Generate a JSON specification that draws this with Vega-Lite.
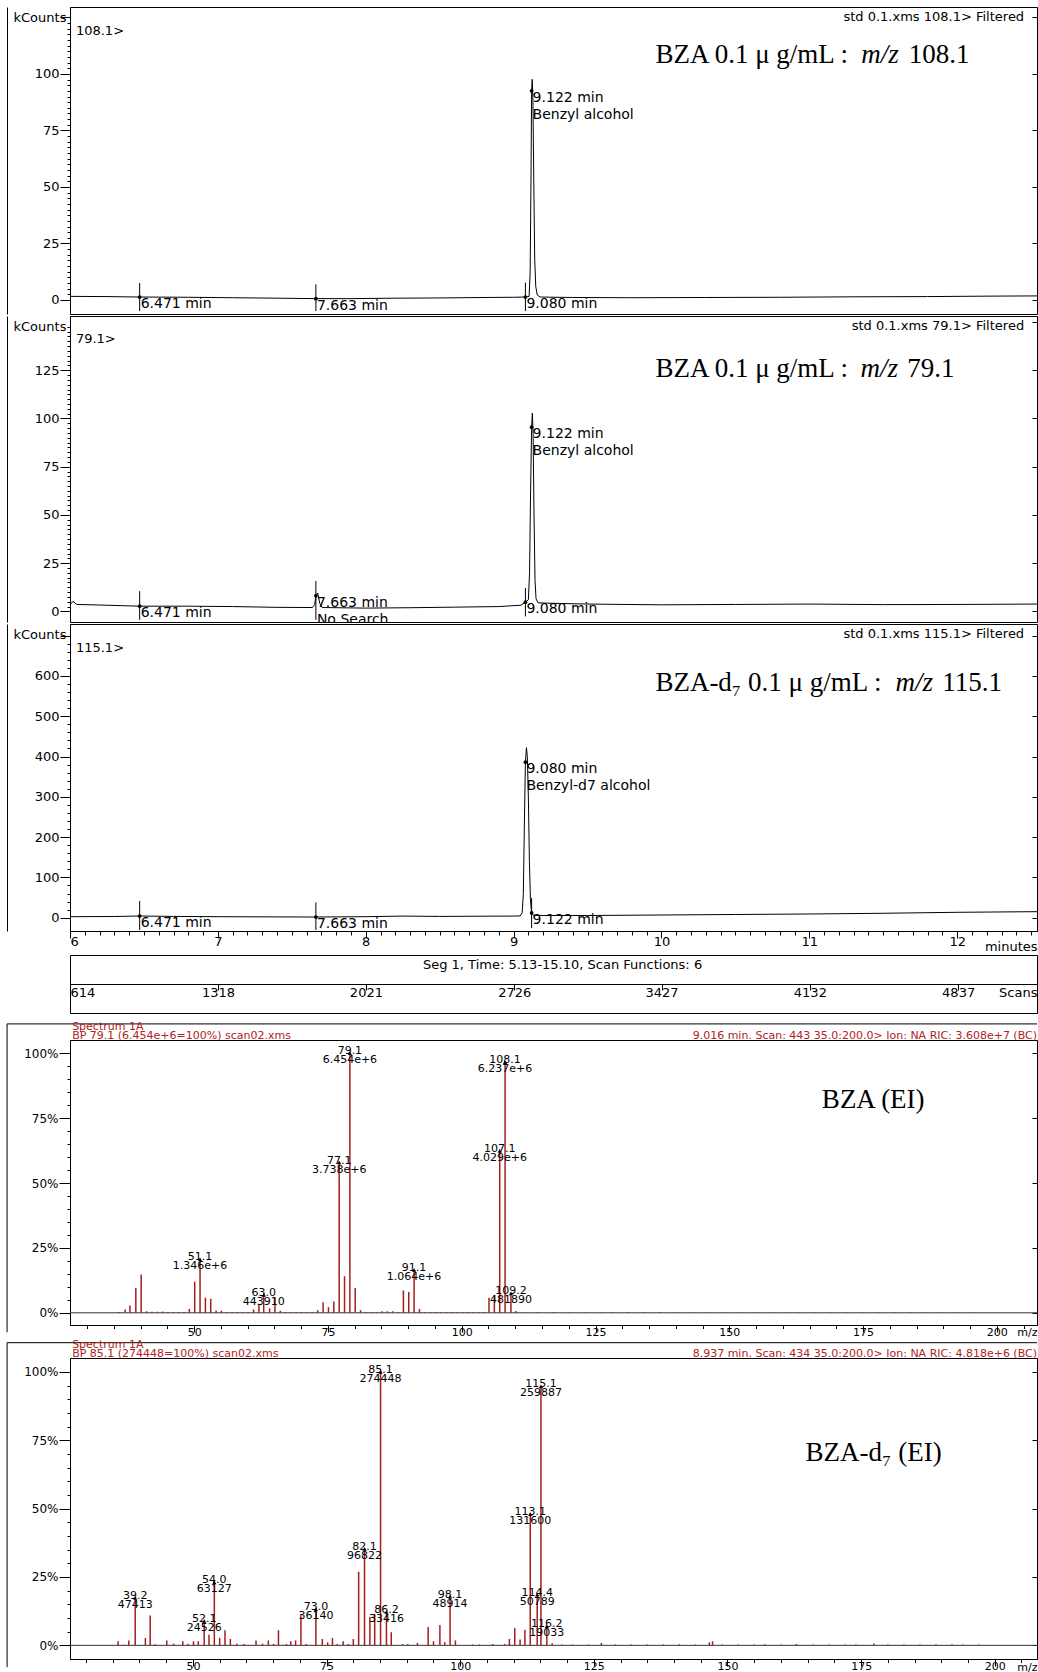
{
"$schema": "https://vega.github.io/schema/vega-lite/v6.json",
"background": "white",
"padding": {"left": 6, "top": 6, "right": 0, "bottom": 0},
"spacing": 0,
"config": {
 "font": "DejaVu Sans",
 "view": {"stroke": "black", "strokeWidth": 1},
 "axis": {"labelFont": "DejaVu Sans", "titleFont": "DejaVu Sans", "labelColor": "black", "titleColor": "black", "domainColor": "black", "tickColor": "black", "tickWidth": 1, "domainWidth": 1, "grid": false, "labelOverlap": false, "titleFontWeight": "normal"},
 "text": {"font": "DejaVu Sans", "color": "black"},
 "concat": {"spacing": 0}
},
"datasets": {
 "chrom": [
  {"p":1,"t":6.0,"v":1.6},{"p":1,"t":6.25,"v":1.5},{"p":1,"t":6.471,"v":1.3},{"p":1,"t":6.8,"v":1.2},{"p":1,"t":7.1,"v":1.0},{"p":1,"t":7.4,"v":0.8},{"p":1,"t":7.663,"v":0.6},{"p":1,"t":7.9,"v":0.6},{"p":1,"t":8.2,"v":0.8},{"p":1,"t":8.5,"v":0.9},{"p":1,"t":8.8,"v":1.1},{"p":1,"t":9.0,"v":1.2},{"p":1,"t":9.08,"v":1.3},{"p":1,"t":9.105,"v":1.6},{"p":1,"t":9.112,"v":12},{"p":1,"t":9.118,"v":55},{"p":1,"t":9.122,"v":92.5},{"p":1,"t":9.126,"v":97.6},{"p":1,"t":9.131,"v":88},{"p":1,"t":9.137,"v":50},{"p":1,"t":9.143,"v":18},{"p":1,"t":9.15,"v":6},{"p":1,"t":9.16,"v":2.2},{"p":1,"t":9.18,"v":1.3},{"p":1,"t":9.4,"v":1.1},{"p":1,"t":9.8,"v":1.0},{"p":1,"t":10.3,"v":1.1},{"p":1,"t":10.8,"v":1.2},{"p":1,"t":11.3,"v":1.4},{"p":1,"t":11.8,"v":1.5},{"p":1,"t":12.2,"v":1.7},{"p":1,"t":12.54,"v":1.8},
  {"p":2,"t":6.0,"v":3.4},{"p":2,"t":6.02,"v":5.2},{"p":2,"t":6.045,"v":3.6},{"p":2,"t":6.2,"v":3.3},{"p":2,"t":6.471,"v":2.7},{"p":2,"t":6.8,"v":2.7},{"p":2,"t":7.1,"v":2.5},{"p":2,"t":7.4,"v":2.1},{"p":2,"t":7.64,"v":2.0},{"p":2,"t":7.655,"v":3.5},{"p":2,"t":7.663,"v":8.1},{"p":2,"t":7.675,"v":9.5},{"p":2,"t":7.69,"v":4},{"p":2,"t":7.705,"v":2.0},{"p":2,"t":8.0,"v":1.7},{"p":2,"t":8.3,"v":1.9},{"p":2,"t":8.6,"v":2.2},{"p":2,"t":8.9,"v":2.5},{"p":2,"t":9.05,"v":3.2},{"p":2,"t":9.08,"v":4.8},{"p":2,"t":9.1,"v":6},{"p":2,"t":9.108,"v":20},{"p":2,"t":9.115,"v":62},{"p":2,"t":9.122,"v":95.5},{"p":2,"t":9.127,"v":102.8},{"p":2,"t":9.132,"v":92},{"p":2,"t":9.138,"v":52},{"p":2,"t":9.145,"v":16},{"p":2,"t":9.152,"v":6.5},{"p":2,"t":9.165,"v":4.5},{"p":2,"t":9.2,"v":4.3},{"p":2,"t":9.5,"v":3.8},{"p":2,"t":10.0,"v":3.4},{"p":2,"t":10.5,"v":3.6},{"p":2,"t":11.0,"v":3.8},{"p":2,"t":11.5,"v":3.5},{"p":2,"t":12.0,"v":3.6},{"p":2,"t":12.54,"v":3.8},
  {"p":3,"t":6.0,"v":2.5},{"p":3,"t":6.3,"v":3.0},{"p":3,"t":6.471,"v":4.2},{"p":3,"t":6.7,"v":3.2},{"p":3,"t":7.0,"v":2.5},{"p":3,"t":7.4,"v":2.0},{"p":3,"t":7.663,"v":1.7},{"p":3,"t":8.0,"v":2.5},{"p":3,"t":8.25,"v":4.0},{"p":3,"t":8.5,"v":3.2},{"p":3,"t":8.8,"v":3.8},{"p":3,"t":9.0,"v":4.0},{"p":3,"t":9.045,"v":4.5},{"p":3,"t":9.058,"v":12},{"p":3,"t":9.066,"v":60},{"p":3,"t":9.073,"v":230},{"p":3,"t":9.08,"v":386},{"p":3,"t":9.087,"v":422},{"p":3,"t":9.093,"v":400},{"p":3,"t":9.1,"v":300},{"p":3,"t":9.107,"v":140},{"p":3,"t":9.114,"v":45},{"p":3,"t":9.122,"v":11.7},{"p":3,"t":9.135,"v":6},{"p":3,"t":9.2,"v":5.5},{"p":3,"t":9.5,"v":5.5},{"p":3,"t":10.0,"v":6.7},{"p":3,"t":10.5,"v":8.0},{"p":3,"t":11.0,"v":9.2},{"p":3,"t":11.5,"v":11.0},{"p":3,"t":12.0,"v":13.4},{"p":3,"t":12.54,"v":15}
 ],
 "mk": [
  {"p":1,"t":6.471,"v":1.3,"lo":-4.9,"hi":7.5,"txt":"6.471 min"},
  {"p":1,"t":7.663,"v":0.6,"lo":-4.9,"hi":6.9,"txt":"7.663 min"},
  {"p":1,"t":9.08,"v":1.3,"lo":-4.9,"hi":7.7,"txt":"9.080 min"},
  {"p":1,"t":9.122,"v":92.5,"txt":"9.122 min\nBenzyl alcohol"},
  {"p":2,"t":6.471,"v":2.7,"lo":-4.4,"hi":10.5,"txt":"6.471 min"},
  {"p":2,"t":7.663,"v":8.1,"lo":-4.4,"hi":15.7,"txt":"7.663 min\nNo Search"},
  {"p":2,"t":9.08,"v":4.8,"lo":-2.6,"hi":12.1,"txt":"9.080 min"},
  {"p":2,"t":9.122,"v":95.5,"txt":"9.122 min\nBenzyl alcohol"},
  {"p":3,"t":6.471,"v":4.2,"lo":-30.5,"hi":41.5,"txt":"6.471 min"},
  {"p":3,"t":7.663,"v":1.7,"lo":-30.5,"hi":38.2,"txt":"7.663 min"},
  {"p":3,"t":9.08,"v":386,"txt":"9.080 min\nBenzyl-d7 alcohol"},
  {"p":3,"t":9.122,"v":11.7,"lo":-25.6,"hi":49,"txt":"9.122 min"}
 ],
 "lab": [
  {"p":1,"t":6.04,"v":119.2,"txt":"108.1>","k":"l"},
  {"p":1,"t":12.453,"v":125.2,"txt":"std 0.1.xms 108.1> Filtered","k":"r"},
  {"p":2,"t":6.04,"v":141.2,"txt":"79.1>","k":"l"},
  {"p":2,"t":12.453,"v":148.1,"txt":"std 0.1.xms 79.1> Filtered","k":"r"},
  {"p":3,"t":6.04,"v":668.8,"txt":"115.1>","k":"l"},
  {"p":3,"t":12.453,"v":704.3,"txt":"std 0.1.xms 115.1> Filtered","k":"r"}
 ],
 "ttl": [
  {"p":1,"t":9.959,"v":104.9,"txt":"BZA 0.1 μ g/mL :","it":0},{"p":1,"t":11.351,"v":104.9,"txt":"m/z","it":1},{"p":1,"t":11.673,"v":104.9,"txt":"108.1","it":0},
  {"p":2,"t":9.959,"v":121.5,"txt":"BZA 0.1 μ g/mL :","it":0},{"p":2,"t":11.347,"v":121.5,"txt":"m/z","it":1},{"p":2,"t":11.662,"v":121.5,"txt":"79.1","it":0},
  {"p":3,"t":9.959,"v":562.8,"txt":"BZA-d₇ 0.1 μ g/mL :","it":0},{"p":3,"t":11.583,"v":562.8,"txt":"m/z","it":1},{"p":3,"t":11.899,"v":562.8,"txt":"115.1","it":0}
 ],
 "seg": [{"scan":2956,"yy":0.833,"txt":"Seg 1, Time: 5.13-15.10, Scan Functions: 6"}],
 "ms": [
  {"s":1,"mz":36.0,"pct":0.3},{"s":1,"mz":37.1,"pct":1.3},{"s":1,"mz":38.0,"pct":2.8},{"s":1,"mz":39.1,"pct":9.6},{"s":1,"mz":40.1,"pct":14.8},{"s":1,"mz":41.1,"pct":0.6},{"s":1,"mz":42.1,"pct":0.4},{"s":1,"mz":43.1,"pct":0.4},{"s":1,"mz":44.1,"pct":0.5},{"s":1,"mz":45.1,"pct":0.3},{"s":1,"mz":46.1,"pct":0.3},{"s":1,"mz":47.1,"pct":0.3},{"s":1,"mz":48.1,"pct":0.3},{"s":1,"mz":49.1,"pct":1.5},{"s":1,"mz":50.1,"pct":12.0},{"s":1,"mz":51.1,"pct":20.6},{"s":1,"mz":52.1,"pct":5.8},{"s":1,"mz":53.1,"pct":5.4},{"s":1,"mz":54.1,"pct":0.9},{"s":1,"mz":55.1,"pct":0.8},{"s":1,"mz":56.1,"pct":0.3},{"s":1,"mz":57.1,"pct":0.3},{"s":1,"mz":58.1,"pct":0.3},{"s":1,"mz":59.1,"pct":0.3},{"s":1,"mz":60.1,"pct":0.3},{"s":1,"mz":61.1,"pct":1.3},{"s":1,"mz":62.1,"pct":3.2},{"s":1,"mz":63.0,"pct":6.9},{"s":1,"mz":64.1,"pct":1.7},{"s":1,"mz":65.1,"pct":6.0},{"s":1,"mz":66.1,"pct":0.8},{"s":1,"mz":67.1,"pct":0.3},{"s":1,"mz":68.1,"pct":0.3},{"s":1,"mz":69.1,"pct":0.3},{"s":1,"mz":70.1,"pct":0.3},{"s":1,"mz":71.1,"pct":0.3},{"s":1,"mz":72.1,"pct":0.3},{"s":1,"mz":73.1,"pct":1.0},{"s":1,"mz":74.1,"pct":4.1},{"s":1,"mz":75.1,"pct":2.2},{"s":1,"mz":76.1,"pct":4.4},{"s":1,"mz":77.1,"pct":57.9},{"s":1,"mz":78.1,"pct":14.1},{"s":1,"mz":79.1,"pct":100},{"s":1,"mz":80.1,"pct":9.6},{"s":1,"mz":81.1,"pct":1.0},{"s":1,"mz":82.1,"pct":0.3},{"s":1,"mz":83.1,"pct":0.3},{"s":1,"mz":84.1,"pct":0.3},{"s":1,"mz":85.1,"pct":0.6},{"s":1,"mz":86.1,"pct":0.6},{"s":1,"mz":87.1,"pct":0.6},{"s":1,"mz":88.1,"pct":0.3},{"s":1,"mz":89.1,"pct":8.6},{"s":1,"mz":90.1,"pct":8.0},{"s":1,"mz":91.1,"pct":16.5},{"s":1,"mz":92.1,"pct":1.5},{"s":1,"mz":93.1,"pct":0.3},{"s":1,"mz":94.1,"pct":0.3},{"s":1,"mz":95.1,"pct":0.3},{"s":1,"mz":96.1,"pct":0.3},{"s":1,"mz":97.1,"pct":0.3},{"s":1,"mz":98.1,"pct":0.3},{"s":1,"mz":99.1,"pct":0.3},{"s":1,"mz":100.1,"pct":0.3},{"s":1,"mz":101.1,"pct":0.3},{"s":1,"mz":102.1,"pct":0.3},{"s":1,"mz":103.1,"pct":0.3},{"s":1,"mz":104.1,"pct":0.3},{"s":1,"mz":105.1,"pct":5.8},{"s":1,"mz":106.1,"pct":6.7},{"s":1,"mz":107.1,"pct":62.4},{"s":1,"mz":108.1,"pct":96.6},{"s":1,"mz":109.2,"pct":7.5},{"s":1,"mz":110.1,"pct":0.7},{"s":1,"mz":112,"pct":0.25},{"s":1,"mz":114,"pct":0.25},{"s":1,"mz":117,"pct":0.25},{"s":1,"mz":120,"pct":0.25},{"s":1,"mz":123,"pct":0.25},{"s":1,"mz":126,"pct":0.25},{"s":1,"mz":128,"pct":0.25},{"s":1,"mz":131,"pct":0.25},{"s":1,"mz":134,"pct":0.25},{"s":1,"mz":137,"pct":0.25},{"s":1,"mz":140,"pct":0.25},{"s":1,"mz":143,"pct":0.25},{"s":1,"mz":146,"pct":0.25},{"s":1,"mz":149,"pct":0.25},{"s":1,"mz":152,"pct":0.25},{"s":1,"mz":155,"pct":0.25},{"s":1,"mz":158,"pct":0.25},{"s":1,"mz":161,"pct":0.25},{"s":1,"mz":163,"pct":0.25},{"s":1,"mz":166,"pct":0.25},{"s":1,"mz":169,"pct":0.25},{"s":1,"mz":172,"pct":0.25},{"s":1,"mz":175,"pct":0.25},{"s":1,"mz":178,"pct":0.25},{"s":1,"mz":181,"pct":0.25},{"s":1,"mz":184,"pct":0.25},{"s":1,"mz":186,"pct":0.25},{"s":1,"mz":189,"pct":0.25},{"s":1,"mz":192,"pct":0.25},{"s":1,"mz":195,"pct":0.25},
  {"s":2,"mz":36.0,"pct":1.5},{"s":2,"mz":37.0,"pct":0.2},{"s":2,"mz":38.0,"pct":1.8},{"s":2,"mz":39.2,"pct":17.3},{"s":2,"mz":41.1,"pct":2.7},{"s":2,"mz":42.0,"pct":10.9},{"s":2,"mz":42.9,"pct":0.4},{"s":2,"mz":45.1,"pct":1.8},{"s":2,"mz":46.4,"pct":0.6},{"s":2,"mz":48.1,"pct":1.5},{"s":2,"mz":49.1,"pct":0.6},{"s":2,"mz":50.1,"pct":1.5},{"s":2,"mz":51.0,"pct":1.5},{"s":2,"mz":52.1,"pct":8.9},{"s":2,"mz":53.0,"pct":3.9},{"s":2,"mz":54.0,"pct":23.0},{"s":2,"mz":55.0,"pct":2.7},{"s":2,"mz":56.0,"pct":5.5},{"s":2,"mz":57.0,"pct":2.3},{"s":2,"mz":58.2,"pct":0.6},{"s":2,"mz":59.6,"pct":0.5},{"s":2,"mz":61.8,"pct":1.8},{"s":2,"mz":63.0,"pct":0.6},{"s":2,"mz":64.1,"pct":1.8},{"s":2,"mz":65.1,"pct":0.5},{"s":2,"mz":66.0,"pct":5.5},{"s":2,"mz":67.5,"pct":0.5},{"s":2,"mz":68.3,"pct":1.5},{"s":2,"mz":69.2,"pct":1.8},{"s":2,"mz":70.2,"pct":11.5},{"s":2,"mz":71.2,"pct":0.5},{"s":2,"mz":73.0,"pct":13.2},{"s":2,"mz":74.2,"pct":2.3},{"s":2,"mz":75.2,"pct":1.1},{"s":2,"mz":76.1,"pct":2.7},{"s":2,"mz":77.0,"pct":0.5},{"s":2,"mz":78.1,"pct":1.5},{"s":2,"mz":79.1,"pct":0.5},{"s":2,"mz":80.0,"pct":2.3},{"s":2,"mz":81.0,"pct":26.9},{"s":2,"mz":82.1,"pct":35.3},{"s":2,"mz":83.1,"pct":10.4},{"s":2,"mz":84.0,"pct":11.5},{"s":2,"mz":85.1,"pct":100},{"s":2,"mz":86.2,"pct":12.2},{"s":2,"mz":87.1,"pct":4.8},{"s":2,"mz":89.2,"pct":0.4},{"s":2,"mz":90.2,"pct":0.5},{"s":2,"mz":92.0,"pct":0.9},{"s":2,"mz":94.0,"pct":6.7},{"s":2,"mz":95.0,"pct":1.5},{"s":2,"mz":96.2,"pct":7.4},{"s":2,"mz":97.1,"pct":1.2},{"s":2,"mz":98.1,"pct":17.8},{"s":2,"mz":99.1,"pct":1.8},{"s":2,"mz":102.3,"pct":0.3},{"s":2,"mz":103.6,"pct":0.3},{"s":2,"mz":106.1,"pct":0.5},{"s":2,"mz":108.3,"pct":0.5},{"s":2,"mz":109.2,"pct":2.3},{"s":2,"mz":110.2,"pct":6.3},{"s":2,"mz":111.2,"pct":2.1},{"s":2,"mz":112.1,"pct":5.7},{"s":2,"mz":113.1,"pct":48.0},{"s":2,"mz":114.4,"pct":18.5},{"s":2,"mz":115.1,"pct":94.7},{"s":2,"mz":116.2,"pct":6.9},{"s":2,"mz":117.2,"pct":0.8},{"s":2,"mz":119,"pct":0.3},{"s":2,"mz":121,"pct":0.3},{"s":2,"mz":124,"pct":0.3},{"s":2,"mz":126.4,"pct":0.9},{"s":2,"mz":129,"pct":0.3},{"s":2,"mz":132,"pct":0.3},{"s":2,"mz":135,"pct":0.3},{"s":2,"mz":138,"pct":0.3},{"s":2,"mz":141,"pct":0.4},{"s":2,"mz":144,"pct":0.3},{"s":2,"mz":146.6,"pct":1.1},{"s":2,"mz":147.2,"pct":1.5},{"s":2,"mz":149,"pct":0.3},{"s":2,"mz":152,"pct":0.3},{"s":2,"mz":155,"pct":0.3},{"s":2,"mz":157,"pct":0.4},{"s":2,"mz":160,"pct":0.3},{"s":2,"mz":162.9,"pct":0.5},{"s":2,"mz":166,"pct":0.3},{"s":2,"mz":169,"pct":0.3},{"s":2,"mz":172,"pct":0.3},{"s":2,"mz":174,"pct":0.3},{"s":2,"mz":177.4,"pct":0.7},{"s":2,"mz":180,"pct":0.3},{"s":2,"mz":183,"pct":0.3},{"s":2,"mz":186,"pct":0.3},{"s":2,"mz":189,"pct":0.4},{"s":2,"mz":192,"pct":0.4},{"s":2,"mz":194,"pct":0.3},{"s":2,"mz":197,"pct":0.3}
 ],
 "msl": [
  {"s":1,"mz":51.1,"pct":20.6,"txt":"51.1\n1.346e+6"},{"s":1,"mz":63.0,"pct":6.9,"txt":"63.0\n443910"},{"s":1,"mz":77.1,"pct":57.9,"txt":"77.1\n3.738e+6"},{"s":1,"mz":79.1,"pct":100,"txt":"79.1\n6.454e+6"},{"s":1,"mz":91.1,"pct":16.5,"txt":"91.1\n1.064e+6"},{"s":1,"mz":107.1,"pct":62.4,"txt":"107.1\n4.029e+6"},{"s":1,"mz":108.1,"pct":96.6,"txt":"108.1\n6.237e+6"},{"s":1,"mz":109.2,"pct":7.5,"txt":"109.2\n481890"},
  {"s":2,"mz":39.2,"pct":17.3,"txt":"39.2\n47413"},{"s":2,"mz":52.1,"pct":8.9,"txt":"52.1\n24526"},{"s":2,"mz":54.0,"pct":23.0,"txt":"54.0\n63127"},{"s":2,"mz":73.0,"pct":13.2,"txt":"73.0\n36140"},{"s":2,"mz":82.1,"pct":35.3,"txt":"82.1\n96822"},{"s":2,"mz":85.1,"pct":100,"txt":"85.1\n274448"},{"s":2,"mz":86.2,"pct":12.2,"txt":"86.2\n33416"},{"s":2,"mz":98.1,"pct":17.8,"txt":"98.1\n48914"},{"s":2,"mz":113.1,"pct":48.0,"txt":"113.1\n131600"},{"s":2,"mz":114.4,"pct":18.5,"txt":"114.4\n50789"},{"s":2,"mz":115.1,"pct":94.7,"txt":"115.1\n259887"},{"s":2,"mz":116.2,"pct":6.9,"txt":"116.2\n19033"}
 ],
 "msh": [
  {"s":1,"mz":27.2,"pct":110.0,"txt":"Spectrum 1A","k":"l"},
  {"s":1,"mz":27.2,"pct":106.6,"txt":"BP 79.1 (6.454e+6=100%) scan02.xms","k":"l"},
  {"s":1,"mz":207.5,"pct":106.6,"txt":"9.016 min. Scan: 443 35.0:200.0> Ion: NA RIC: 3.608e+7 (BC)","k":"r"},
  {"s":2,"mz":27.4,"pct":109.8,"txt":"Spectrum 1A","k":"l"},
  {"s":2,"mz":27.4,"pct":106.6,"txt":"BP 85.1 (274448=100%) scan02.xms","k":"l"},
  {"s":2,"mz":207.9,"pct":106.6,"txt":"8.937 min. Scan: 434 35.0:200.0> Ion: NA RIC: 4.818e+6 (BC)","k":"r"}
 ],
 "mst": [
  {"s":1,"mz":167.3,"pct":79.0,"txt":"BZA (EI)"},
  {"s":2,"mz":164.6,"pct":67.4,"txt":"BZA-d₇ (EI)"}
 ],
 "base": [
  {"s":1,"mz":26.8,"mz2":207.5,"pct":0},
  {"s":2,"mz":27.0,"mz2":207.9,"pct":0}
 ],
 "frame": [
  {"s":1,"mz":15.04,"mz2":207.5,"pct":111.3,"pct2":-7.5},
  {"s":2,"mz":15.23,"mz2":207.9,"pct":110.7,"pct2":-8.0}
 ]
},
"vconcat": [
 {
  "width": 967, "height": 307,
  "resolve": {"axis": {"y": "independent"}},
  "encoding": {"x": {"field": "t", "type": "quantitative", "scale": {"domain": [6, 12.54], "nice": false, "zero": false}, "axis": null}},
  "layer": [
   {"data": {"name": "chrom"}, "transform": [{"filter": "datum.p === 1"}],
    "mark": {"type": "line", "color": "black", "strokeWidth": 1},
    "encoding": {"y": {"field": "v", "type": "quantitative", "scale": {"domain": [-6.2, 129.6], "nice": false, "zero": false},
      "axis": {"orient": "left", "values": [0,2.5,5,7.5,10,12.5,15,17.5,20,22.5,25,27.5,30,32.5,35,37.5,40,42.5,45,47.5,50,52.5,55,57.5,60,62.5,65,67.5,70,72.5,75,77.5,80,82.5,85,87.5,90,92.5,95,97.5,100,102.5,105,107.5,110,112.5,115,117.5,120,122.5,125],
       "labelExpr": "datum.value >= 0 && datum.value <= 100 && datum.value % 25 === 0 ? '' + datum.value : ''",
       "tickSize": {"condition": {"test": "datum.value % 25 === 0", "value": 10}, "value": 3},
       "labelPadding": 1, "labelFontSize": 13,
       "title": "kCounts", "titleAngle": 0, "titleAlign": "left", "titleBaseline": "middle", "titleX": -57, "titleY": 10, "titleFontSize": 13}}}},
   {"data": {"name": "chrom"}, "transform": [{"filter": "datum.p === 1"}],
    "mark": {"type": "line", "strokeOpacity": 0},
    "encoding": {"y": {"field": "v", "type": "quantitative", "scale": {"domain": [-6.2, 129.6], "nice": false, "zero": false},
      "axis": {"orient": "right", "values": [0,25,50,75,100,125], "labels": false, "domain": false, "tickSize": -5, "title": null}}}},
   {"data": {"name": "chrom"}, "transform": [{"filter": "datum.p === 1"}],
    "mark": {"type": "line", "strokeOpacity": 0},
    "encoding": {"y": {"field": "v", "type": "quantitative", "scale": {"domain": [-6.2, 129.6], "nice": false, "zero": false},
      "axis": {"orient": "left", "offset": 63, "labels": false, "ticks": false, "domain": true, "title": null}}}},
   {"data": {"name": "mk"}, "transform": [{"filter": "datum.p === 1 && isValid(datum.lo)"}],
    "mark": {"type": "rule", "color": "black", "strokeWidth": 1},
    "encoding": {"y": {"field": "hi", "type": "quantitative", "scale": {"domain": [-6.2, 129.6], "nice": false, "zero": false}, "axis": null}, "y2": {"field": "lo"}}},
   {"data": {"name": "mk"}, "transform": [{"filter": "datum.p === 1"}],
    "mark": {"type": "point", "filled": true, "color": "black", "size": 14, "opacity": 1, "strokeWidth": 0},
    "encoding": {"y": {"field": "v", "type": "quantitative", "scale": {"domain": [-6.2, 129.6], "nice": false, "zero": false}, "axis": null}}},
   {"data": {"name": "mk"}, "transform": [{"filter": "datum.p === 1"}],
    "mark": {"type": "text", "align": "left", "baseline": "top", "dx": 1, "dy": 0, "fontSize": 14, "lineHeight": 17, "lineBreak": "\n", "clip": true},
    "encoding": {"y": {"field": "v", "type": "quantitative", "scale": {"domain": [-6.2, 129.6], "nice": false, "zero": false}, "axis": null}, "text": {"field": "txt"}}},
   {"data": {"name": "lab"}, "transform": [{"filter": "datum.p === 1 && datum.k === 'l'"}],
    "mark": {"type": "text", "align": "left", "baseline": "middle", "fontSize": 13},
    "encoding": {"y": {"field": "v", "type": "quantitative", "scale": {"domain": [-6.2, 129.6], "nice": false, "zero": false}, "axis": null}, "text": {"field": "txt"}}},
   {"data": {"name": "lab"}, "transform": [{"filter": "datum.p === 1 && datum.k === 'r'"}],
    "mark": {"type": "text", "align": "right", "baseline": "middle", "fontSize": 13},
    "encoding": {"y": {"field": "v", "type": "quantitative", "scale": {"domain": [-6.2, 129.6], "nice": false, "zero": false}, "axis": null}, "text": {"field": "txt"}}},
   {"data": {"name": "ttl"}, "transform": [{"filter": "datum.p === 1 && datum.it === 0"}],
    "mark": {"type": "text", "align": "left", "baseline": "alphabetic", "font": "Liberation Serif", "fontSize": 27},
    "encoding": {"y": {"field": "v", "type": "quantitative", "scale": {"domain": [-6.2, 129.6], "nice": false, "zero": false}, "axis": null}, "text": {"field": "txt"}}},
   {"data": {"name": "ttl"}, "transform": [{"filter": "datum.p === 1 && datum.it === 1"}],
    "mark": {"type": "text", "align": "left", "baseline": "alphabetic", "font": "Liberation Serif", "fontStyle": "italic", "fontSize": 27},
    "encoding": {"y": {"field": "v", "type": "quantitative", "scale": {"domain": [-6.2, 129.6], "nice": false, "zero": false}, "axis": null}, "text": {"field": "txt"}}}
  ]
 },
 {
  "width": 967, "height": 306,
  "resolve": {"axis": {"y": "independent"}},
  "encoding": {"x": {"field": "t", "type": "quantitative", "scale": {"domain": [6, 12.54], "nice": false, "zero": false}, "axis": null}},
  "layer": [
   {"data": {"name": "chrom"}, "transform": [{"filter": "datum.p === 2"}],
    "mark": {"type": "line", "color": "black", "strokeWidth": 1},
    "encoding": {"y": {"field": "v", "type": "quantitative", "scale": {"domain": [-5.5, 153.1], "nice": false, "zero": false},
      "axis": {"orient": "left", "values": [0,2.5,5,7.5,10,12.5,15,17.5,20,22.5,25,27.5,30,32.5,35,37.5,40,42.5,45,47.5,50,52.5,55,57.5,60,62.5,65,67.5,70,72.5,75,77.5,80,82.5,85,87.5,90,92.5,95,97.5,100,102.5,105,107.5,110,112.5,115,117.5,120,122.5,125,127.5,130,132.5,135,137.5,140,142.5,145,147.5],
       "labelExpr": "datum.value >= 0 && datum.value <= 125 && datum.value % 25 === 0 ? '' + datum.value : ''",
       "tickSize": {"condition": {"test": "datum.value % 25 === 0", "value": 10}, "value": 3},
       "labelPadding": 1, "labelFontSize": 13,
       "title": "kCounts", "titleAngle": 0, "titleAlign": "left", "titleBaseline": "middle", "titleX": -57, "titleY": 10, "titleFontSize": 13}}}},
   {"data": {"name": "chrom"}, "transform": [{"filter": "datum.p === 2"}],
    "mark": {"type": "line", "strokeOpacity": 0},
    "encoding": {"y": {"field": "v", "type": "quantitative", "scale": {"domain": [-5.5, 153.1], "nice": false, "zero": false},
      "axis": {"orient": "right", "values": [0,25,50,75,100,125,150], "labels": false, "domain": false, "tickSize": -5, "title": null}}}},
   {"data": {"name": "chrom"}, "transform": [{"filter": "datum.p === 2"}],
    "mark": {"type": "line", "strokeOpacity": 0},
    "encoding": {"y": {"field": "v", "type": "quantitative", "scale": {"domain": [-5.5, 153.1], "nice": false, "zero": false},
      "axis": {"orient": "left", "offset": 63, "labels": false, "ticks": false, "domain": true, "title": null}}}},
   {"data": {"name": "mk"}, "transform": [{"filter": "datum.p === 2 && isValid(datum.lo)"}],
    "mark": {"type": "rule", "color": "black", "strokeWidth": 1},
    "encoding": {"y": {"field": "hi", "type": "quantitative", "scale": {"domain": [-5.5, 153.1], "nice": false, "zero": false}, "axis": null}, "y2": {"field": "lo"}}},
   {"data": {"name": "mk"}, "transform": [{"filter": "datum.p === 2"}],
    "mark": {"type": "point", "filled": true, "color": "black", "size": 14, "opacity": 1, "strokeWidth": 0},
    "encoding": {"y": {"field": "v", "type": "quantitative", "scale": {"domain": [-5.5, 153.1], "nice": false, "zero": false}, "axis": null}}},
   {"data": {"name": "mk"}, "transform": [{"filter": "datum.p === 2"}],
    "mark": {"type": "text", "align": "left", "baseline": "top", "dx": 1, "dy": 0, "fontSize": 14, "lineHeight": 17, "lineBreak": "\n", "clip": true},
    "encoding": {"y": {"field": "v", "type": "quantitative", "scale": {"domain": [-5.5, 153.1], "nice": false, "zero": false}, "axis": null}, "text": {"field": "txt"}}},
   {"data": {"name": "lab"}, "transform": [{"filter": "datum.p === 2 && datum.k === 'l'"}],
    "mark": {"type": "text", "align": "left", "baseline": "middle", "fontSize": 13},
    "encoding": {"y": {"field": "v", "type": "quantitative", "scale": {"domain": [-5.5, 153.1], "nice": false, "zero": false}, "axis": null}, "text": {"field": "txt"}}},
   {"data": {"name": "lab"}, "transform": [{"filter": "datum.p === 2 && datum.k === 'r'"}],
    "mark": {"type": "text", "align": "right", "baseline": "middle", "fontSize": 13},
    "encoding": {"y": {"field": "v", "type": "quantitative", "scale": {"domain": [-5.5, 153.1], "nice": false, "zero": false}, "axis": null}, "text": {"field": "txt"}}},
   {"data": {"name": "ttl"}, "transform": [{"filter": "datum.p === 2 && datum.it === 0"}],
    "mark": {"type": "text", "align": "left", "baseline": "alphabetic", "font": "Liberation Serif", "fontSize": 27},
    "encoding": {"y": {"field": "v", "type": "quantitative", "scale": {"domain": [-5.5, 153.1], "nice": false, "zero": false}, "axis": null}, "text": {"field": "txt"}}},
   {"data": {"name": "ttl"}, "transform": [{"filter": "datum.p === 2 && datum.it === 1"}],
    "mark": {"type": "text", "align": "left", "baseline": "alphabetic", "font": "Liberation Serif", "fontStyle": "italic", "fontSize": 27},
    "encoding": {"y": {"field": "v", "type": "quantitative", "scale": {"domain": [-5.5, 153.1], "nice": false, "zero": false}, "axis": null}, "text": {"field": "txt"}}}
  ]
 },
 {
  "width": 967, "height": 307,
  "resolve": {"axis": {"y": "independent"}},
  "encoding": {"x": {"field": "t", "type": "quantitative", "scale": {"domain": [6, 12.54], "nice": false, "zero": false},
    "axis": {"orient": "bottom", "values": [6,6.1,6.2,6.3,6.4,6.5,6.6,6.7,6.8,6.9,7,7.1,7.2,7.3,7.4,7.5,7.6,7.7,7.8,7.9,8,8.1,8.2,8.3,8.4,8.5,8.6,8.7,8.8,8.9,9,9.1,9.2,9.3,9.4,9.5,9.6,9.7,9.8,9.9,10,10.1,10.2,10.3,10.4,10.5,10.6,10.7,10.8,10.9,11,11.1,11.2,11.3,11.4,11.5,11.6,11.7,11.8,11.9,12,12.1,12.2,12.3,12.4,12.5],
     "labelExpr": "datum.value % 1 === 0 ? '' + datum.value : ''",
     "tickSize": {"condition": {"test": "datum.value % 1 === 0", "value": 7}, "value": 4},
     "labelPadding": -3, "labelFontSize": 13, "labelFlush": 3,
     "title": "minutes", "titleX": 967, "titleY": 15, "titleAlign": "right", "titleBaseline": "middle", "titleFontSize": 13, "minExtent": 22}}},
  "layer": [
   {"data": {"name": "chrom"}, "transform": [{"filter": "datum.p === 3"}],
    "mark": {"type": "line", "color": "black", "strokeWidth": 1},
    "encoding": {"y": {"field": "v", "type": "quantitative", "scale": {"domain": [-33, 729], "nice": false, "zero": false},
      "axis": {"orient": "left", "values": [0,20,40,60,80,100,120,140,160,180,200,220,240,260,280,300,320,340,360,380,400,420,440,460,480,500,520,540,560,580,600,620,640,660,680,700],
       "labelExpr": "datum.value >= 0 && datum.value <= 600 && datum.value % 100 === 0 ? '' + datum.value : ''",
       "tickSize": {"condition": {"test": "datum.value % 100 === 0", "value": 10}, "value": 3},
       "labelPadding": 1, "labelFontSize": 13,
       "title": "kCounts", "titleAngle": 0, "titleAlign": "left", "titleBaseline": "middle", "titleX": -57, "titleY": 10, "titleFontSize": 13}}}},
   {"data": {"name": "chrom"}, "transform": [{"filter": "datum.p === 3"}],
    "mark": {"type": "line", "strokeOpacity": 0},
    "encoding": {"y": {"field": "v", "type": "quantitative", "scale": {"domain": [-33, 729], "nice": false, "zero": false},
      "axis": {"orient": "right", "values": [0,100,200,300,400,500,600,700], "labels": false, "domain": false, "tickSize": -5, "title": null}}}},
   {"data": {"name": "chrom"}, "transform": [{"filter": "datum.p === 3"}],
    "mark": {"type": "line", "strokeOpacity": 0},
    "encoding": {"y": {"field": "v", "type": "quantitative", "scale": {"domain": [-33, 729], "nice": false, "zero": false},
      "axis": {"orient": "left", "offset": 63, "labels": false, "ticks": false, "domain": true, "title": null}}}},
   {"data": {"name": "mk"}, "transform": [{"filter": "datum.p === 3 && isValid(datum.lo)"}],
    "mark": {"type": "rule", "color": "black", "strokeWidth": 1},
    "encoding": {"y": {"field": "hi", "type": "quantitative", "scale": {"domain": [-33, 729], "nice": false, "zero": false}, "axis": null}, "y2": {"field": "lo"}}},
   {"data": {"name": "mk"}, "transform": [{"filter": "datum.p === 3"}],
    "mark": {"type": "point", "filled": true, "color": "black", "size": 14, "opacity": 1, "strokeWidth": 0},
    "encoding": {"y": {"field": "v", "type": "quantitative", "scale": {"domain": [-33, 729], "nice": false, "zero": false}, "axis": null}}},
   {"data": {"name": "mk"}, "transform": [{"filter": "datum.p === 3"}],
    "mark": {"type": "text", "align": "left", "baseline": "top", "dx": 1, "dy": 0, "fontSize": 14, "lineHeight": 17, "lineBreak": "\n", "clip": true},
    "encoding": {"y": {"field": "v", "type": "quantitative", "scale": {"domain": [-33, 729], "nice": false, "zero": false}, "axis": null}, "text": {"field": "txt"}}},
   {"data": {"name": "lab"}, "transform": [{"filter": "datum.p === 3 && datum.k === 'l'"}],
    "mark": {"type": "text", "align": "left", "baseline": "middle", "fontSize": 13},
    "encoding": {"y": {"field": "v", "type": "quantitative", "scale": {"domain": [-33, 729], "nice": false, "zero": false}, "axis": null}, "text": {"field": "txt"}}},
   {"data": {"name": "lab"}, "transform": [{"filter": "datum.p === 3 && datum.k === 'r'"}],
    "mark": {"type": "text", "align": "right", "baseline": "middle", "fontSize": 13},
    "encoding": {"y": {"field": "v", "type": "quantitative", "scale": {"domain": [-33, 729], "nice": false, "zero": false}, "axis": null}, "text": {"field": "txt"}}},
   {"data": {"name": "ttl"}, "transform": [{"filter": "datum.p === 3 && datum.it === 0"}],
    "mark": {"type": "text", "align": "left", "baseline": "alphabetic", "font": "Liberation Serif", "fontSize": 27},
    "encoding": {"y": {"field": "v", "type": "quantitative", "scale": {"domain": [-33, 729], "nice": false, "zero": false}, "axis": null}, "text": {"field": "txt"}}},
   {"data": {"name": "ttl"}, "transform": [{"filter": "datum.p === 3 && datum.it === 1"}],
    "mark": {"type": "text", "align": "left", "baseline": "alphabetic", "font": "Liberation Serif", "fontStyle": "italic", "fontSize": 27},
    "encoding": {"y": {"field": "v", "type": "quantitative", "scale": {"domain": [-33, 729], "nice": false, "zero": false}, "axis": null}, "text": {"field": "txt"}}}
  ]
 },
 {
  "width": 967, "height": 58,
  "data": {"name": "seg"},
  "mark": {"type": "text", "align": "center", "baseline": "middle", "fontSize": 13},
  "encoding": {
   "x": {"field": "scan", "type": "quantitative", "scale": {"domain": [614, 5212], "nice": false, "zero": false},
    "axis": {"orient": "bottom", "offset": -29, "values": [614,1318,2021,2726,3427,4132,4837], "labelExpr": "'' + datum.value",
     "tickSize": 6, "labelPadding": -4, "labelFontSize": 13, "labelFlush": 3,
     "title": "Scans", "titleX": 967, "titleY": 8, "titleAlign": "right", "titleBaseline": "middle", "titleFontSize": 13, "minExtent": 35}},
   "y": {"field": "yy", "type": "quantitative", "scale": {"domain": [0, 1], "nice": false, "zero": false}, "axis": null},
   "text": {"field": "txt"}
  }
 },
 {
  "width": 967, "height": 285,
  "resolve": {"axis": {"y": "independent"}},
  "encoding": {"x": {"field": "mz", "type": "quantitative", "scale": {"domain": [26.8, 207.5], "nice": false, "zero": false},
    "axis": {"orient": "bottom", "values": [30,35,40,45,50,55,60,65,70,75,80,85,90,95,100,105,110,115,120,125,130,135,140,145,150,155,160,165,170,175,180,185,190,195,200,205],
     "labelExpr": "datum.value % 25 === 0 ? '' + datum.value : ''",
     "tickSize": {"condition": {"test": "datum.value % 25 === 0", "value": 7}, "value": 3.5},
     "labelPadding": -6, "labelFontSize": 11,
     "title": "m/z", "titleX": 967, "titleY": 7, "titleAlign": "right", "titleBaseline": "middle", "titleFontSize": 11}}},
  "layer": [
   {"data": {"name": "base"}, "transform": [{"filter": "datum.s === 1"}],
    "mark": {"type": "rule", "color": "#333333", "strokeWidth": 1},
    "encoding": {"x2": {"field": "mz2"}, "y": {"field": "pct", "type": "quantitative", "scale": {"domain": [-4.7, 105.1], "nice": false, "zero": false},
      "axis": {"orient": "left", "values": [0,5,10,15,20,25,30,35,40,45,50,55,60,65,70,75,80,85,90,95,100],
       "labelExpr": "datum.value % 25 === 0 ? datum.value + '%' : ''",
       "tickSize": {"condition": {"test": "datum.value % 25 === 0", "value": 11}, "value": 3},
       "labelPadding": 1, "labelFontSize": 12, "title": null}}}},
   {"data": {"name": "frame"}, "transform": [{"filter": "datum.s === 1"}],
    "mark": {"type": "rule", "color": "black", "strokeWidth": 1},
    "encoding": {"x2": {"field": "mz2"}, "y": {"field": "pct", "type": "quantitative", "scale": {"domain": [-4.7, 105.1], "nice": false, "zero": false}, "axis": null}}},
   {"data": {"name": "frame"}, "transform": [{"filter": "datum.s === 1"}],
    "mark": {"type": "rule", "color": "black", "strokeWidth": 1},
    "encoding": {"y": {"field": "pct", "type": "quantitative", "scale": {"domain": [-4.7, 105.1], "nice": false, "zero": false}, "axis": null}, "y2": {"field": "pct2"}}},
   {"data": {"name": "ms"}, "transform": [{"filter": "datum.s === 1"}],
    "mark": {"type": "rule", "color": "#a31f1f", "strokeWidth": 1.5},
    "encoding": {"y": {"field": "pct", "type": "quantitative", "scale": {"domain": [-4.7, 105.1], "nice": false, "zero": false},
      "axis": {"orient": "right", "values": [0,25,50,75,100], "labels": false, "domain": false, "tickSize": -5, "title": null}}, "y2": {"datum": 0}}},
   {"data": {"name": "msl"}, "transform": [{"filter": "datum.s === 1"}],
    "mark": {"type": "point", "shape": "triangle-up", "filled": true, "color": "black", "size": 18, "opacity": 1, "strokeWidth": 0},
    "encoding": {"y": {"field": "pct", "type": "quantitative", "scale": {"domain": [-4.7, 105.1], "nice": false, "zero": false}, "axis": null}}},
   {"data": {"name": "msl"}, "transform": [{"filter": "datum.s === 1"}],
    "mark": {"type": "text", "align": "center", "baseline": "bottom", "dy": 3, "fontSize": 11, "lineHeight": 9, "lineBreak": "\n"},
    "encoding": {"y": {"field": "pct", "type": "quantitative", "scale": {"domain": [-4.7, 105.1], "nice": false, "zero": false}, "axis": null}, "text": {"field": "txt"}}},
   {"data": {"name": "msh"}, "transform": [{"filter": "datum.s === 1 && datum.k === 'l'"}],
    "mark": {"type": "text", "align": "left", "baseline": "middle", "fontSize": 11, "color": "#b22222"},
    "encoding": {"y": {"field": "pct", "type": "quantitative", "scale": {"domain": [-4.7, 105.1], "nice": false, "zero": false}, "axis": null}, "text": {"field": "txt"}}},
   {"data": {"name": "msh"}, "transform": [{"filter": "datum.s === 1 && datum.k === 'r'"}],
    "mark": {"type": "text", "align": "right", "baseline": "middle", "fontSize": 11, "color": "#b22222"},
    "encoding": {"y": {"field": "pct", "type": "quantitative", "scale": {"domain": [-4.7, 105.1], "nice": false, "zero": false}, "axis": null}, "text": {"field": "txt"}}},
   {"data": {"name": "mst"}, "transform": [{"filter": "datum.s === 1"}],
    "mark": {"type": "text", "align": "left", "baseline": "alphabetic", "font": "Liberation Serif", "fontSize": 27},
    "encoding": {"y": {"field": "pct", "type": "quantitative", "scale": {"domain": [-4.7, 105.1], "nice": false, "zero": false}, "axis": null}, "text": {"field": "txt"}}}
  ]
 },
 {
  "width": 967, "height": 301,
  "resolve": {"axis": {"y": "independent"}},
  "encoding": {"x": {"field": "mz", "type": "quantitative", "scale": {"domain": [27.0, 207.9], "nice": false, "zero": false},
    "axis": {"orient": "bottom", "values": [30,35,40,45,50,55,60,65,70,75,80,85,90,95,100,105,110,115,120,125,130,135,140,145,150,155,160,165,170,175,180,185,190,195,200,205],
     "labelExpr": "datum.value % 25 === 0 ? '' + datum.value : ''",
     "tickSize": {"condition": {"test": "datum.value % 25 === 0", "value": 7}, "value": 3.5},
     "labelPadding": -6, "labelFontSize": 11,
     "title": "m/z", "titleX": 967, "titleY": 8, "titleAlign": "right", "titleBaseline": "middle", "titleFontSize": 11}}},
  "layer": [
   {"data": {"name": "base"}, "transform": [{"filter": "datum.s === 2"}],
    "mark": {"type": "rule", "color": "#333333", "strokeWidth": 1},
    "encoding": {"x2": {"field": "mz2"}, "y": {"field": "pct", "type": "quantitative", "scale": {"domain": [-5.0, 105.1], "nice": false, "zero": false},
      "axis": {"orient": "left", "values": [0,5,10,15,20,25,30,35,40,45,50,55,60,65,70,75,80,85,90,95,100],
       "labelExpr": "datum.value % 25 === 0 ? datum.value + '%' : ''",
       "tickSize": {"condition": {"test": "datum.value % 25 === 0", "value": 11}, "value": 3},
       "labelPadding": 1, "labelFontSize": 12, "title": null}}}},
   {"data": {"name": "frame"}, "transform": [{"filter": "datum.s === 2"}],
    "mark": {"type": "rule", "color": "black", "strokeWidth": 1},
    "encoding": {"x2": {"field": "mz2"}, "y": {"field": "pct", "type": "quantitative", "scale": {"domain": [-5.0, 105.1], "nice": false, "zero": false}, "axis": null}}},
   {"data": {"name": "frame"}, "transform": [{"filter": "datum.s === 2"}],
    "mark": {"type": "rule", "color": "black", "strokeWidth": 1},
    "encoding": {"y": {"field": "pct", "type": "quantitative", "scale": {"domain": [-5.0, 105.1], "nice": false, "zero": false}, "axis": null}, "y2": {"field": "pct2"}}},
   {"data": {"name": "ms"}, "transform": [{"filter": "datum.s === 2"}],
    "mark": {"type": "rule", "color": "#a31f1f", "strokeWidth": 1.5},
    "encoding": {"y": {"field": "pct", "type": "quantitative", "scale": {"domain": [-5.0, 105.1], "nice": false, "zero": false},
      "axis": {"orient": "right", "values": [0,25,50,75,100], "labels": false, "domain": false, "tickSize": -5, "title": null}}, "y2": {"datum": 0}}},
   {"data": {"name": "msl"}, "transform": [{"filter": "datum.s === 2"}],
    "mark": {"type": "point", "shape": "triangle-up", "filled": true, "color": "black", "size": 18, "opacity": 1, "strokeWidth": 0},
    "encoding": {"y": {"field": "pct", "type": "quantitative", "scale": {"domain": [-5.0, 105.1], "nice": false, "zero": false}, "axis": null}}},
   {"data": {"name": "msl"}, "transform": [{"filter": "datum.s === 2"}],
    "mark": {"type": "text", "align": "center", "baseline": "bottom", "dy": 3, "fontSize": 11, "lineHeight": 9, "lineBreak": "\n"},
    "encoding": {"y": {"field": "pct", "type": "quantitative", "scale": {"domain": [-5.0, 105.1], "nice": false, "zero": false}, "axis": null}, "text": {"field": "txt"}}},
   {"data": {"name": "msh"}, "transform": [{"filter": "datum.s === 2 && datum.k === 'l'"}],
    "mark": {"type": "text", "align": "left", "baseline": "middle", "fontSize": 11, "color": "#b22222"},
    "encoding": {"y": {"field": "pct", "type": "quantitative", "scale": {"domain": [-5.0, 105.1], "nice": false, "zero": false}, "axis": null}, "text": {"field": "txt"}}},
   {"data": {"name": "msh"}, "transform": [{"filter": "datum.s === 2 && datum.k === 'r'"}],
    "mark": {"type": "text", "align": "right", "baseline": "middle", "fontSize": 11, "color": "#b22222"},
    "encoding": {"y": {"field": "pct", "type": "quantitative", "scale": {"domain": [-5.0, 105.1], "nice": false, "zero": false}, "axis": null}, "text": {"field": "txt"}}},
   {"data": {"name": "mst"}, "transform": [{"filter": "datum.s === 2"}],
    "mark": {"type": "text", "align": "left", "baseline": "alphabetic", "font": "Liberation Serif", "fontSize": 27},
    "encoding": {"y": {"field": "pct", "type": "quantitative", "scale": {"domain": [-5.0, 105.1], "nice": false, "zero": false}, "axis": null}, "text": {"field": "txt"}}}
  ]
 }
]
}
